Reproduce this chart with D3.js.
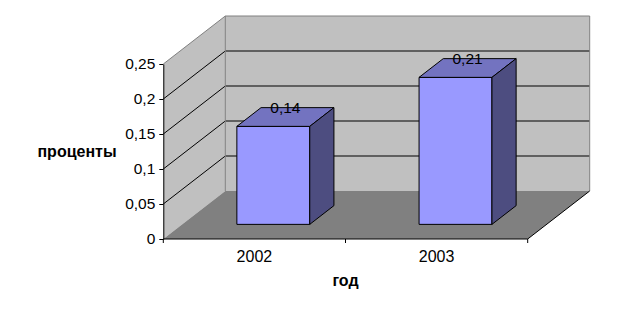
<!DOCTYPE html>
<html>
<head>
<meta charset="utf-8">
<script src="https://cdn.jsdelivr.net/npm/d3@7"></script>
<style>
  html, body { margin: 0; padding: 0; background: #ffffff; }
  svg { display: block; font-family: "Liberation Sans", Arial, sans-serif; }
</style>
</head>
<body>
<svg id="chart" width="623" height="317"></svg>
<script>
// ---- data ----
const categories = ["2002", "2003"];
const values = [0.14, 0.21];
const valueTicks = [0, 0.05, 0.1, 0.15, 0.2, 0.25];
const yTitle = "проценты";
const xTitle = "год";

// ---- layout ----
const svg = d3.select("#chart");
const fontSize = 15.5;
const x = d3.scaleBand().domain(categories).range([163.3, 527.7]).padding(0);
const y = d3.scaleLinear().domain([0, 0.25]).range([239, 64]);
const DX = 62, DY = -48;          // full depth offset
const barFrac = 0.4;              // bar width as fraction of band
const d0 = 0.305, d1 = 0.695;     // bar depth extent

const P = (px, py, d) => [px + d * DX, py + d * DY];
const poly = pts => pts.map(p => p.join(",")).join(" ");

const x0 = x.range()[0], x1 = x.range()[1];
const yB = y(0), yT = y(0.25);

// left wall
svg.append("polygon")
  .attr("points", poly([[x0, yB], [x0, yT], P(x0, yT, 1), P(x0, yB, 1)]))
  .attr("fill", "#c0c0c0");
// back wall
svg.append("polygon")
  .attr("points", poly([P(x0, yT, 1), P(x1, yT, 1), P(x1, yB, 1), P(x0, yB, 1)]))
  .attr("fill", "#c0c0c0");
// floor
svg.append("polygon")
  .attr("points", poly([[x0, yB], [x1, yB], P(x1, yB, 1), P(x0, yB, 1)]))
  .attr("fill", "#808080");

// gridlines
const grid = svg.append("g").attr("stroke", "#000").attr("stroke-width", 1).attr("fill", "none");
valueTicks.filter(v => v > 0 && v < 0.25).forEach(v => {
  const a = [x0, y(v)], b = P(x0, y(v), 1), c = P(x1, y(v), 1);
  grid.append("polyline").attr("points", poly([a, b, c]));
});

// wall outlines (grey)
const outline = svg.append("g").attr("stroke", "#808080").attr("stroke-width", 1).attr("fill", "none");
outline.append("polyline").attr("points", poly([[x0, yT], P(x0, yT, 1), P(x1, yT, 1), P(x1, yB, 1)]));
outline.append("line")
  .attr("x1", P(x0, yT, 1)[0]).attr("y1", P(x0, yT, 1)[1])
  .attr("x2", P(x0, yB, 1)[0]).attr("y2", P(x0, yB, 1)[1]);

// floor right edge
svg.append("line")
  .attr("x1", x1).attr("y1", yB).attr("x2", P(x1, yB, 1)[0]).attr("y2", P(x1, yB, 1)[1])
  .attr("stroke", "#000").attr("stroke-width", 1);

// bars
const bars = svg.append("g").attr("stroke", "#000").attr("stroke-width", 1).attr("stroke-linejoin", "miter");
categories.forEach((c, i) => {
  const bw = x.bandwidth();
  const l = x(c) + (1 - barFrac) / 2 * bw, r = l + barFrac * bw;
  const top = y(values[i]), bot = y(0);
  const fl = P(l, top, d0), fr = P(r, top, d0), frb = P(r, bot, d0), flb = P(l, bot, d0);
  const bl = P(l, top, d1), br = P(r, top, d1), brb = P(r, bot, d1);
  bars.append("polygon").attr("points", poly([fl, fr, frb, flb])).attr("fill", "#9999ff");
  bars.append("polygon").attr("points", poly([fl, bl, br, fr])).attr("fill", "#7373c0");
  bars.append("polygon").attr("points", poly([fr, br, brb, frb])).attr("fill", "#4d4d80");
  const cx = (fl[0] + br[0]) / 2;
  svg.append("text")
    .attr("x", cx).attr("y", bl[1] + 5)
    .attr("text-anchor", "middle")
    .attr("font-size", fontSize)
    .attr("fill", "#000")
    .text(String(values[i]).replace(".", ","));
});

// value axis
const yAxis = d3.axisLeft(y).tickValues(valueTicks).tickSize(4).tickSizeOuter(0).tickPadding(4)
  .tickFormat(v => String(v).replace(".", ","));
const ga = svg.append("g").attr("transform", `translate(${x0},0)`).call(yAxis);
ga.selectAll("text").attr("font-size", fontSize).attr("font-family", "Liberation Sans, Arial, sans-serif").attr("fill", "#000");
ga.selectAll("line,path").attr("stroke", "#000");

// category axis
const gx = svg.append("g");
gx.append("line").attr("x1", x0).attr("x2", x1).attr("y1", yB).attr("y2", yB).attr("stroke", "#000");
const tickPos = categories.map(c => x(c)).concat([x1]);
gx.selectAll("line.tk").data(tickPos).join("line").attr("class", "tk")
  .attr("x1", d => d).attr("x2", d => d).attr("y1", yB).attr("y2", yB + 4).attr("stroke", "#000");
gx.selectAll("text").data(categories).join("text")
  .attr("x", d => x(d) + x.bandwidth() / 2).attr("y", 262)
  .attr("text-anchor", "middle").attr("font-size", 16).attr("fill", "#000")
  .text(d => d);

// titles
svg.append("text").attr("x", 77).attr("y", 157).attr("text-anchor", "middle")
  .attr("font-size", 16).attr("font-weight", "bold").attr("fill", "#000").text(yTitle);
svg.append("text").attr("x", 345.5).attr("y", 286).attr("text-anchor", "middle")
  .attr("font-size", 16).attr("font-weight", "bold").attr("fill", "#000").text(xTitle);
</script>
</body>
</html>
